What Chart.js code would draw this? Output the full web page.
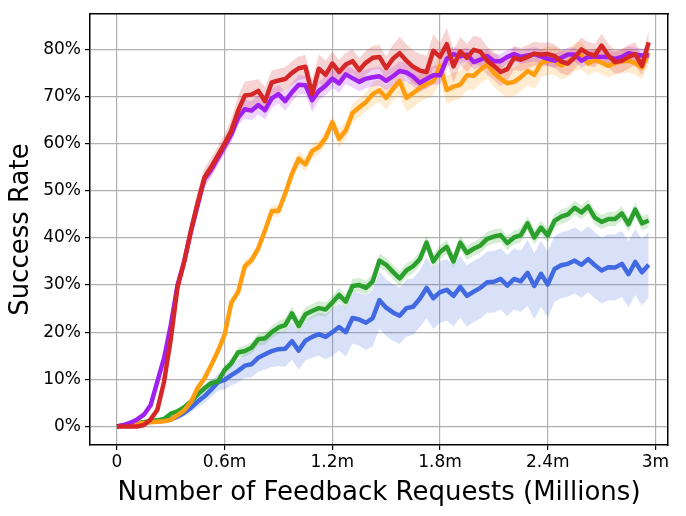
<!DOCTYPE html>
<html>
<head>
<meta charset="utf-8">
<script src="https://cdn.jsdelivr.net/npm/chart.js@4.4.1/dist/chart.umd.min.js"></script>
<style>
  html, body { margin: 0; padding: 0; background: #ffffff; }
  #wrap { width: 686px; height: 516px; }
</style>
</head>
<body>
<div id="wrap"><canvas id="c" width="686" height="516"></canvas></div>
<script>
// ---- Data (success rate in %, sampled every 0.0375 million feedback requests) ----
const stepMillions = 0.0375;

const redRate = [0,0,0,0,0.3,1.5,3.5,9.5,18.5,29.5, 35,41.5,47.5,52.8,55,57.5,60,62.8,67,70.2,
  70.4,71.2,69,73,73.4,73.7,75,76,76.3,70.5, 75.9,74.6,77,75.2,76.8,77.5,75.6,77.2,78.2,78.4,
  76,78,79.2,77.6,76.3,75.5,75.2,79.7,78.4,81.1, 76.4,79.6,78.2,79.9,79.5,77.6,76.5,75.2,75.8,78.2,
  77.8,78.4,79.1,78.9,79,78.6,77.4,77,78.3,80, 79.1,78.7,80.8,78.7,77.3,77.6,78.4,79,76.5,81.5];

const purpleRate = [0,0.3,0.8,1.5,2.5,4.5,9.5,14.5,21.5,30, 35,41.5,47,52.5,54.5,57,59.5,62,65.5,67.3,
  67,68.2,67.1,69.6,70.5,69,70.9,72.5,72.4,69.2, 71.2,72.3,73.8,72.8,74.7,73.9,73.1,73.8,74.1,74.3,
  73.3,74.3,75.4,75.1,74.2,72.9,73.7,74.5,74.5,78, 79,78.5,78.9,77.3,77.8,78.6,77.5,77.5,78.4,79,
  78.4,78.7,79,78.5,78,77.6,78.2,78.9,78.9,77.6, 78.4,78.5,78.4,78.4,78,78.4,79.2,78.9,78.7,78.7];

const orangeRate = [0,0.2,0.4,0.6,0.75,0.9,1,1.1,1.4,2.4, 3.4,5.2,8.2,10.2,13,16,19.5,26.3,28.5,34,
  35.3,37.8,41.6,45.7,45.7,49.4,53.6,56.8,55.6,58.4, 59.3,61.2,64.5,61,62.8,66.5,67.7,68.8,70.5,71.3,
  69.7,71.6,73.3,69.7,70.7,71.8,72.6,73.2,76.5,71.4, 72.1,72.5,74.5,74.4,75.7,76.8,75,73.8,72.8,73.1,
  74.1,75.4,74.6,77.1,77.6,77.6,76.6,77.2,78.4,78.7, 77,77.8,77.2,76.5,77.1,77.5,77.6,77.1,76.1,79.3];

const greenRate = [0,0.2,0.4,0.7,0.9,1.1,1.3,1.6,2.7,3.2, 4.1,5.3,6.8,8.1,9.2,9.5,12,13.4,15.7,16,
  16.7,18.5,18.7,20,21,21.5,24,21.3,23.8,24.5, 25.1,24.8,26.3,27.9,26.5,29.8,30,29.4,30.8,35.2,
  34.3,32.8,31.4,33.1,34,35.5,39,35,37,38.1, 35,39,36.8,37.7,38.4,39.8,40.3,40.6,38.9,40.1,
  40.6,43.1,40.1,42.2,40.5,43.6,44.5,45,46.4,45.4, 46.7,44.3,43.4,44,44,45.2,42.9,46,43.1,43.7];

const blueRate = [0,0.2,0.4,0.6,0.8,1,1.1,1.2,1.5,2.1, 2.9,4,5.3,6.4,7.8,9.4,9.9,10.9,11.8,12.9,
  13.2,14.6,15.3,16,16.4,16.5,18.1,16.1,18.2,19, 19.6,19,20,21.1,20,23,22.7,22,23,26.8,
  25.2,24.2,23.5,25.1,25.4,27.1,29.4,27.2,28.5,29, 27.7,29.6,27.7,28.6,29.4,30.6,30.7,31.3,29.9,31.3,
  30.8,32.6,29.8,32.4,30.1,33.4,34.2,34.5,35.2,34.3, 35.5,34.2,33.1,33.8,33.7,34.5,32.3,34.9,32.7,34.3];

// half-width of the shaded band around each line (percentage points)
const redSpread = [0,0,0,0,0.3,0.5,0.8,1,1.2,1.5, 1.5,2,2.5,2,2,2,2,2.5,3,3,
  3,2.5,3,2.5,2.5,2.5,2.5,2.5,2.5,3, 3,3,2.5,2.5,2.5,2.5,2.5,2.5,2.5,2.5,
  2.5,3,3.5,3.5,3.5,3.5,3.5,3.5,3,3.5, 3.5,3,3,3,3,3,3,3,2.5,2.5,
  2.5,2.5,2.5,2.5,2.5,2.5,2.5,2.5,2.5,2.5, 2.5,2.5,2.5,2.5,2.5,2.5,2.5,2.5,2,2.5];
const purpleSpread = [0,0.1,0.2,0.3,0.4,0.6,0.8,1,1,1, 1,1.2,1.2,1.5,1.5,1.5,1.5,1.5,1.5,2,
  2,2,2,2,2,2,2,2,2,2.5, 2,2,2,2,2,2,2,2,2,2,
  2,2,2,2,2,2,2,2,2,2, 1.5,1.5,1.5,1.5,1.5,1.5,1.5,1.5,1.5,1.5,
  1.5,1.5,1.5,1.5,1.5,1.5,1.5,1.5,1.5,1.5, 1.5,1.5,1.5,1.5,1.5,1.5,1.5,1.5,1.5,1.5];
const orangeSpread = [0,0.1,0.1,0.2,0.2,0.2,0.2,0.2,0.3,0.3, 0.4,0.5,0.6,0.7,0.8,0.8,0.8,1,1,1.2,
  1.2,1.2,1.2,1.2,1.2,1.2,1.5,1.5,1.5,1.5, 1.5,1.5,1.5,2,2,2,2,2,2.5,2.5,
  2.5,2.5,3,3,3,3,3,3,3,3, 3,3,3,3,3,3,3,3,3,3,
  3,3,3,3,3,3,3,3,3,3, 2.5,2.5,2.5,2.5,2.5,2.5,2.5,2.5,2.5,2.5];
const greenSpread = [0,0.1,0.2,0.2,0.3,0.3,0.3,0.4,0.5,0.5, 0.5,0.6,0.7,0.8,0.8,0.9,1,1,1,1.2,
  1.2,1.3,1.3,1.3,1.4,1.5,1.5,1.5,1.5,1.5, 1.5,1.5,1.5,1.5,1.5,1.5,1.5,1.5,1.5,1.5,
  1.5,1.5,1.5,1.5,1.5,1.5,1.5,1.5,1.5,1.5, 1.5,1.5,1.5,1.5,1.5,1.5,1.5,1.5,1.5,1.5,
  1.5,1.5,1.5,1.5,1.5,1.5,1.5,1.5,1.5,1.5, 1.5,1.5,1.5,1.5,1.5,1.5,1.5,1.5,1.5,1.5];
const blueSpread = [0,0.1,0.2,0.2,0.3,0.3,0.3,0.4,0.5,0.6, 0.8,1,1.2,1.4,1.6,1.8,2,2.2,2.4,2.6,
  2.8,3,3.2,3.4,3.6,3.8,4,4,4.2,4.4, 4.6,4.8,5,5,5.2,5.4,5.6,5.8,6,6,
  6,6,6,6,6,6,6.5,6.5,6.5,6.5, 6.5,6.5,6.5,6.5,6.5,6.5,6.5,6.5,6.5,6.5,
  6.5,7,7,7,7,7,7,7,7,7, 7,7,7,7,7,7,7,7,7,7];

const xTickValues = [0, 0.6, 1.2, 1.8, 2.4, 3.0];
const xTickLabels = ['0', '0.6m', '1.2m', '1.8m', '2.4m', '3m'];
const yTickValues = [0, 10, 20, 30, 40, 50, 60, 70, 80];
const yTickLabels = ['0%', '10%', '20%', '30%', '40%', '50%', '60%', '70%', '80%'];

// ---- Build chart ----
const seriesList = [
  { rate: redRate,    spread: redSpread,    color: '#d62728', band: 'rgba(214,39,40,0.2)' },
  { rate: purpleRate, spread: purpleSpread, color: '#a020f0', band: 'rgba(160,32,240,0.2)' },
  { rate: orangeRate, spread: orangeSpread, color: '#ff9d0f', band: 'rgba(255,157,15,0.2)' },
  { rate: greenRate,  spread: greenSpread,  color: '#2ca02c', band: 'rgba(44,160,44,0.2)' },
  { rate: blueRate,   spread: blueSpread,   color: '#4169e1', band: 'rgba(65,105,225,0.2)' },
];

const toPoints = arr => arr.map((v, i) => ({ x: i * stepMillions, y: v }));

const datasets = [];
// lines first (drawn on top, red topmost)
seriesList.forEach(s => {
  datasets.push({
    data: toPoints(s.rate),
    borderColor: s.color,
    borderWidth: 4.5,
    pointRadius: 0,
    borderJoinStyle: 'round',
    borderCapStyle: 'butt',
    tension: 0,
    fill: false,
    order: 0,
  });
});
// bands (drawn underneath)
seriesList.forEach(s => {
  datasets.push({
    data: toPoints(s.rate.map((v, i) => v + s.spread[i])),
    borderWidth: 0,
    borderColor: 'rgba(0,0,0,0)',
    backgroundColor: s.band,
    pointRadius: 0,
    tension: 0,
    fill: '+1',
    order: 1,
  });
  datasets.push({
    data: toPoints(s.rate.map((v, i) => v - s.spread[i])),
    borderWidth: 0,
    borderColor: 'rgba(0,0,0,0)',
    pointRadius: 0,
    tension: 0,
    fill: false,
    order: 1,
  });
});

const FONT = "'DejaVu Sans', sans-serif";
const gridColor = '#b0b0b0';

new Chart(document.getElementById('c'), {
  type: 'line',
  data: { datasets },
  options: {
    responsive: false,
    animation: false,
    events: [],
    layout: { padding: { top: 10, right: 18, left: 0, bottom: 0 } },
    plugins: { legend: { display: false }, tooltip: { enabled: false } },
    scales: {
      x: {
        type: 'linear',
        min: -0.15,
        max: 3.07,
        afterBuildTicks: s => { s.ticks = xTickValues.map(v => ({ value: v })); },
        afterFit: s => { s.height = 71; },
        ticks: {
          autoSkip: false,
          maxRotation: 0,
          color: '#000',
          font: { family: FONT, size: 17 },
          padding: 2,
          callback: (v, i) => xTickLabels[i],
        },
        grid: { color: gridColor, lineWidth: 1.2, drawTicks: true, tickLength: 5, tickColor: '#000', tickWidth: 1.2 },
        border: { display: true, color: '#000', width: 1.5 },
        title: {
          display: true,
          text: 'Number of Feedback Requests (Millions)',
          color: '#000',
          font: { family: FONT, size: 26 },
          padding: { top: 0, bottom: 7 },
        },
      },
      y: {
        type: 'linear',
        min: -3.93,
        max: 87.46,
        afterBuildTicks: s => { s.ticks = yTickValues.map(v => ({ value: v })); },
        afterFit: s => { s.width = 90; },
        ticks: {
          autoSkip: false,
          color: '#000',
          font: { family: FONT, size: 17 },
          padding: 4,
          callback: (v, i) => yTickLabels[i],
        },
        grid: { color: gridColor, lineWidth: 1.2, drawTicks: true, tickLength: 5, tickColor: '#000', tickWidth: 1.2 },
        border: { display: true, color: '#000', width: 1.5 },
        title: {
          display: true,
          text: 'Success Rate',
          color: '#000',
          font: { family: FONT, size: 26 },
          padding: { top: 6, bottom: 0 },
        },
      },
      xTop: {
        type: 'linear', position: 'top', min: -0.15, max: 3.07,
        afterFit: s => { s.height = 0; },
        ticks: { display: false },
        grid: { display: false, drawTicks: false },
        border: { display: true, color: '#000', width: 1.5 },
      },
      yRight: {
        type: 'linear', position: 'right', min: -3.93, max: 87.46,
        afterFit: s => { s.width = 0; },
        ticks: { display: false },
        grid: { display: false, drawTicks: false },
        border: { display: true, color: '#000', width: 1.5 },
      },
    },
  },
});
</script>
</body>
</html>
